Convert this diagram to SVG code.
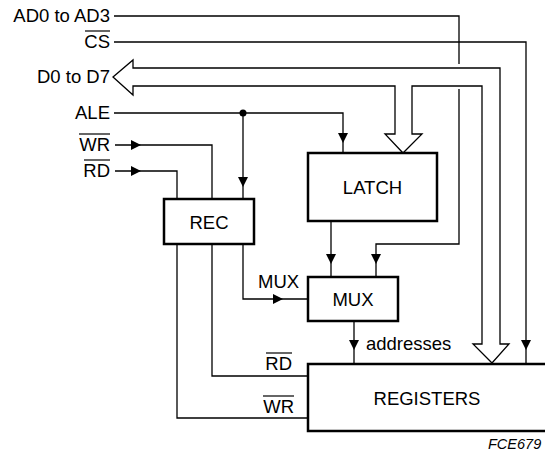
<svg xmlns="http://www.w3.org/2000/svg" width="545" height="452" viewBox="0 0 545 452">
<style>
text{font-family:"Liberation Sans",Arial,sans-serif;font-size:18.5px;fill:#000}
.lbl{text-anchor:end}
.mid{text-anchor:middle}
.box{fill:#fff;stroke:#000;stroke-width:2.5}
.w{fill:none;stroke:#000;stroke-width:1.3}
.ah{fill:#000;stroke:none}
.bus{fill:#fff;stroke:#000;stroke-width:1.3;stroke-linejoin:miter}
.ov{stroke:#000;stroke-width:1.2}
.ref{font-size:14.5px;font-style:italic}
</style>
<g id="connectors">
  <path class="w" d="M114,16 H459 V64 M459,89 V244 H376 V277"/>
  <path class="ah" d="M371,254 H381 L376,264 Z"/>
  <path class="w" d="M114,42 H526 V364"/>
  <path class="ah" d="M521,340 H531 L526,350 Z"/>
  <path class="bus" d="M113,77 L133,60 V68 H500 V344 H509 L492,363 L473,344 H482 V86 H412 V134 H422 L403,153 L385,134 H395 V86 H133 V95 Z"/>
  <path class="w" d="M114,113 H343 V153"/>
  <path class="ah" d="M338,133 H348 L343,143 Z"/>
  <path class="w" d="M243,113 V199"/>
  <circle cx="243" cy="113" r="3.5" fill="#000"/>
  <path class="ah" d="M238,177 H248 L243,187 Z"/>
  <path class="w" d="M115,145 H212 V199"/>
  <path class="ah" d="M131,140 V150 L141,145 Z"/>
  <path class="w" d="M115,171 H177 V199"/>
  <path class="ah" d="M131,166 V176 L141,171 Z"/>
  <path class="w" d="M243,244 V299 H308"/>
  <path class="ah" d="M273,294 V304 L283,299 Z"/>
  <path class="w" d="M212,244 V376 H308"/>
  <path class="w" d="M177,244 V418 H308"/>
  <path class="w" d="M331,221 V277"/>
  <path class="ah" d="M326,254 H336 L331,264 Z"/>
  <path class="w" d="M354,321 V364"/>
  <path class="ah" d="M349,340 H359 L354,350 Z"/>
</g>
<g id="labels">
  <text class="lbl" x="110" y="22">AD0 to AD3</text>
  <text class="lbl" x="110" y="48">CS</text>
  <line class="ov" x1="85" y1="31" x2="110" y2="31"/>
  <text class="lbl" x="110" y="83">D0 to D7</text>
  <text class="lbl" x="110" y="119">ALE</text>
  <text class="lbl" x="110" y="151">WR</text>
  <line class="ov" x1="79" y1="134" x2="110" y2="134"/>
  <text class="lbl" x="110" y="177">RD</text>
  <line class="ov" x1="84" y1="160" x2="110" y2="160"/>
  <text x="258" y="288">MUX</text>
  <text x="366" y="350">addresses</text>
  <text class="lbl" x="292" y="370">RD</text>
  <line class="ov" x1="266" y1="353" x2="292" y2="353"/>
  <text class="lbl" x="294" y="413">WR</text>
  <line class="ov" x1="263" y1="396" x2="294" y2="396"/>
  <text class="ref" x="488" y="449">FCE679</text>
</g>
<g id="latch">
  <rect class="box" x="308" y="153" width="129" height="68"/>
  <text class="mid" x="372.5" y="194">LATCH</text>
</g>
<g id="rec">
  <rect class="box" x="164" y="199" width="90" height="45"/>
  <text class="mid" x="209" y="229">REC</text>
</g>
<g id="mux">
  <rect class="box" x="308" y="277" width="90" height="44"/>
  <text class="mid" x="353" y="306">MUX</text>
</g>
<g id="registers">
  <rect class="box" x="308" y="364" width="260" height="67"/>
  <text class="mid" x="427" y="405">REGISTERS</text>
</g>
</svg>
